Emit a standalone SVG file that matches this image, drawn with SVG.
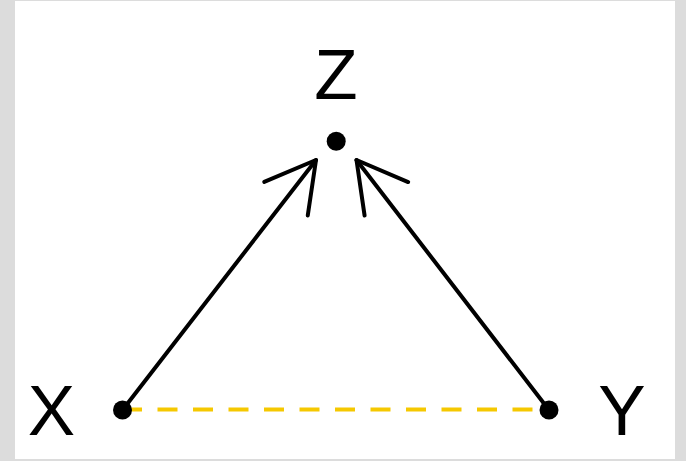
<svg xmlns="http://www.w3.org/2000/svg" width="686" height="461" viewBox="0 0 686 461">
  <style>
    .lbl { font-family: "Liberation Sans", Arial, sans-serif; font-size: 71px; fill: #000; text-anchor: middle; }
    .dot { fill: #000; }
    .edge { stroke: #000; stroke-width: 4; fill: none; stroke-linecap: round; }
    .dash { stroke: #f5c800; stroke-width: 4; fill: none; stroke-dasharray: 20 15.5; }
  </style>
  <defs>
    <marker id="arrow" markerUnits="userSpaceOnUse" viewBox="-60 -40 70 80" markerWidth="70" markerHeight="80" refX="0" refY="0" orient="auto" overflow="visible">
      <path d="M-49,-27.5 L0,0 L-49,27.5" fill="none" stroke="#000" stroke-width="4" stroke-linecap="round" stroke-linejoin="round"/>
    </marker>
  </defs>
  <rect x="0" y="0" width="686" height="461" fill="#dcdcdc"/>
  <rect x="15" y="1" width="660" height="458" fill="#ffffff"/>
  <g id="connectors">
    <line class="dash" x1="122" y1="409.5" x2="549" y2="409.5"/>
    <line class="edge" x1="122.5" y1="410" x2="316" y2="160" marker-end="url(#arrow)"/>
    <line class="edge" x1="549" y1="410" x2="356.5" y2="160" marker-end="url(#arrow)"/>
  </g>
  <g id="node-Z">
    <circle class="dot" cx="336.2" cy="141.2" r="9.5"/>
    <text class="lbl" x="336" y="99">Z</text>
  </g>
  <g id="node-X">
    <circle class="dot" cx="122.5" cy="410" r="9.5"/>
    <text class="lbl" x="51.5" y="435">X</text>
  </g>
  <g id="node-Y">
    <circle class="dot" cx="549" cy="410" r="9.5"/>
    <text class="lbl" x="622" y="435">Y</text>
  </g>
</svg>
